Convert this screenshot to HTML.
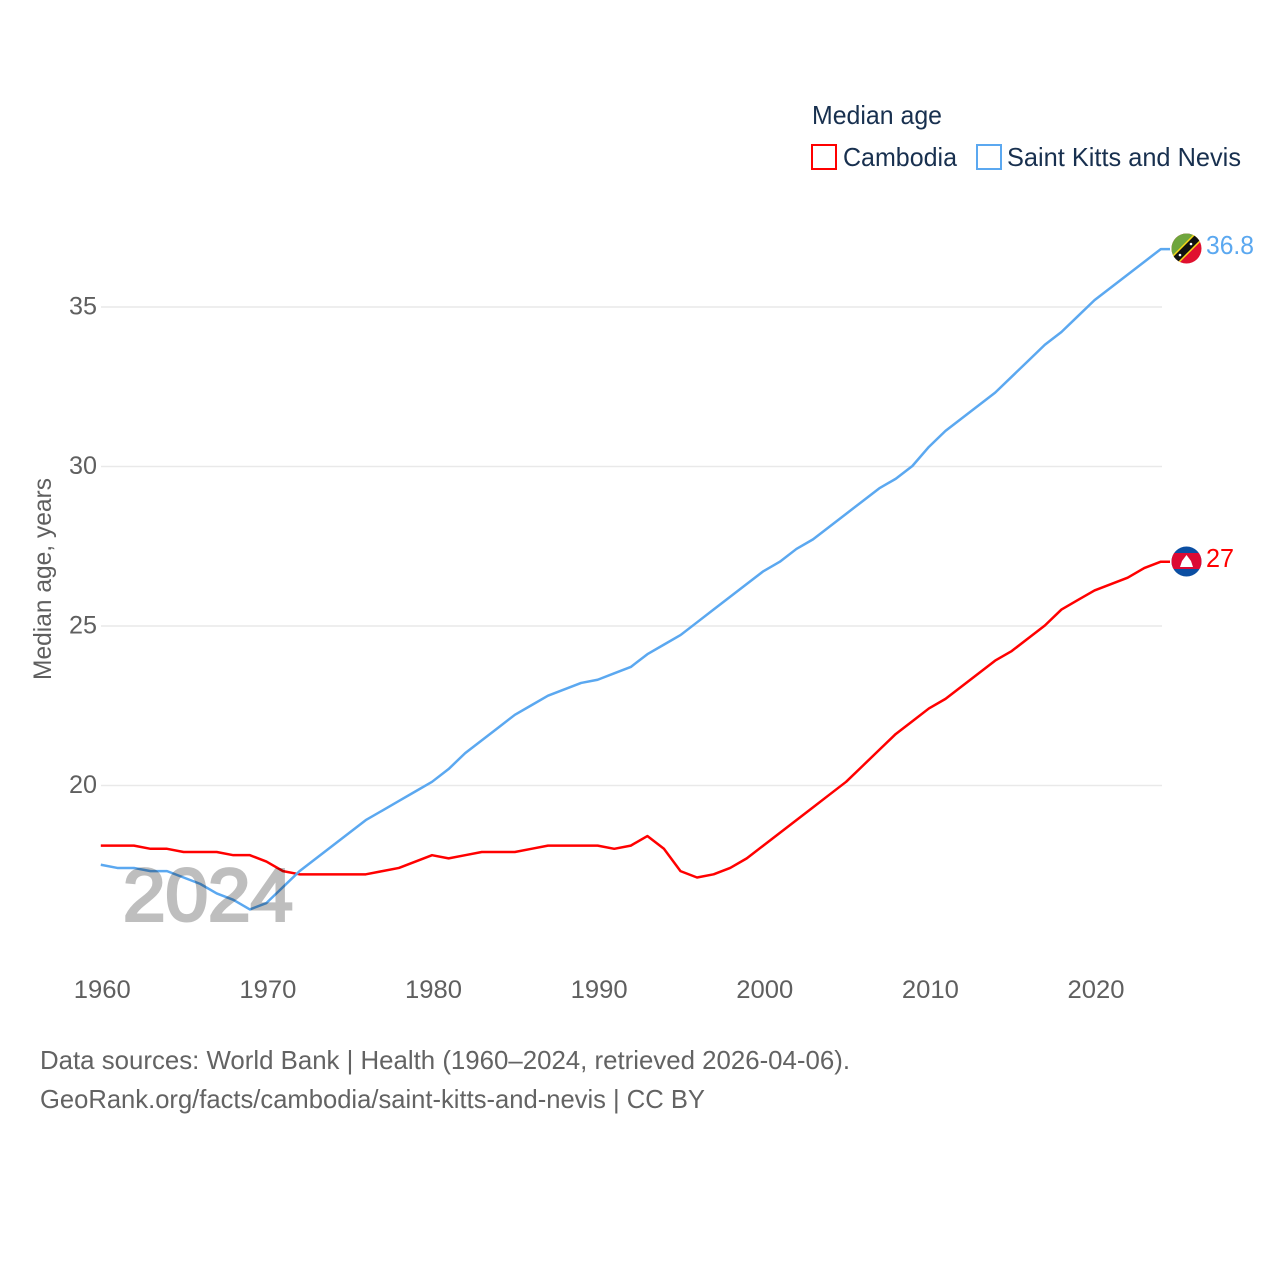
<!DOCTYPE html>
<html>
<head>
<meta charset="utf-8">
<title>Median age: Cambodia and Saint Kitts and Nevis</title>
<style>
html,body{margin:0;padding:0;background:#fff}
svg{display:block}
text{font-family:"Liberation Sans",sans-serif}
.tick{font-size:25px;fill:#5f5f5f}
.legend{font-size:26px;fill:#18304f}
.foot{font-size:26px;fill:#636363}
</style>
</head>
<body>
<svg id="chart" width="1280" height="1280" viewBox="0 0 1280 1280" xmlns="http://www.w3.org/2000/svg">
  <defs>
    <clipPath id="clip-skn"><circle cx="1186.5" cy="248.5" r="15"/></clipPath>
    <clipPath id="clip-khm"><circle cx="1186.5" cy="561.5" r="15"/></clipPath>
  </defs>
  <g id="grid"></g>
  <g id="yticks"></g>
  <g id="xticks"></g>
  <text class="tick" font-size="25" transform="translate(51,680) rotate(-90)" textLength="202" lengthAdjust="spacingAndGlyphs">Median age, years</text>
  <g id="series"></g>
  <g opacity="0.25">
    <text x="123" y="920.5" font-size="74" fill="#000" stroke="#000" stroke-width="3" textLength="170" lengthAdjust="spacingAndGlyphs">2024</text>
  </g>

  <g>
    <text class="legend" x="812" y="124" textLength="130" lengthAdjust="spacingAndGlyphs">Median age</text>
    <rect x="812" y="145" width="24" height="24" fill="#fff" stroke="#ff0000" stroke-width="2"/>
    <text class="legend" x="843" y="166" textLength="114" lengthAdjust="spacingAndGlyphs">Cambodia</text>
    <rect x="977" y="145" width="24" height="24" fill="#fff" stroke="#5ba8f0" stroke-width="2"/>
    <text class="legend" x="1007" y="166" textLength="234" lengthAdjust="spacingAndGlyphs">Saint Kitts and Nevis</text>
  </g>

  <g clip-path="url(#clip-skn)">
    <rect x="1171" y="233" width="31" height="31" fill="#e0112f"/>
    <polygon points="1171,233 1202,233 1171,264" fill="#6fa53d"/>
    <line x1="1172" y1="263" x2="1201" y2="234" stroke="#f7d917" stroke-width="10"/>
    <line x1="1172" y1="263" x2="1201" y2="234" stroke="#111" stroke-width="7"/>
    <circle cx="1180" cy="255" r="1.3" fill="#fff"/>
    <circle cx="1191" cy="244" r="1.3" fill="#fff"/>
  </g>
  <g clip-path="url(#clip-khm)">
    <rect x="1171" y="546" width="31" height="31" fill="#0b4ea2"/>
    <rect x="1171" y="553" width="31" height="16" fill="#dc0a33"/>
    <polygon points="1186.5,555 1191,561 1193,567 1180,567 1182,561" fill="#fff"/>
  </g>

  <text id="label-skn" x="1206" y="254" font-size="26" fill="#5ba8f0" textLength="48" lengthAdjust="spacingAndGlyphs">36.8</text>
  <text id="label-khm" x="1206" y="567" font-size="26" fill="#ff0000" textLength="28" lengthAdjust="spacingAndGlyphs">27</text>

  <text class="foot" x="40" y="1069" textLength="810" lengthAdjust="spacingAndGlyphs">Data sources: World Bank | Health (1960–2024, retrieved 2026-04-06).</text>
  <text class="foot" x="40" y="1108" textLength="665" lengthAdjust="spacingAndGlyphs">GeoRank.org/facts/cambodia/saint-kitts-and-nevis | CC BY</text>
</svg>
<script>
const years = [];
for (let yr = 1960; yr <= 2024; yr++) years.push(yr);
const xTickLabels = [1960, 1970, 1980, 1990, 2000, 2010, 2020];
const yTickLabels = [20, 25, 30, 35];
const cambodia = [18.1,18.1,18.1,18.0,18.0,17.9,17.9,17.9,17.8,17.8,
  17.6,17.3,17.2,17.2,17.2,17.2,17.2,17.3,17.4,17.6,
  17.8,17.7,17.8,17.9,17.9,17.9,18.0,18.1,18.1,18.1,
  18.1,18.0,18.1,18.4,18.0,17.3,17.1,17.2,17.4,17.7,
  18.1,18.5,18.9,19.3,19.7,20.1,20.6,21.1,21.6,22.0,
  22.4,22.7,23.1,23.5,23.9,24.2,24.6,25.0,25.5,25.8,
  26.1,26.3,26.5,26.8,27.0];
const saintKitts = [17.5,17.4,17.4,17.3,17.3,17.1,16.9,16.6,16.4,16.1,
  16.3,16.8,17.3,17.7,18.1,18.5,18.9,19.2,19.5,19.8,
  20.1,20.5,21.0,21.4,21.8,22.2,22.5,22.8,23.0,23.2,
  23.3,23.5,23.7,24.1,24.4,24.7,25.1,25.5,25.9,26.3,
  26.7,27.0,27.4,27.7,28.1,28.5,28.9,29.3,29.6,30.0,
  30.6,31.1,31.5,31.9,32.3,32.8,33.3,33.8,34.2,34.7,
  35.2,35.6,36.0,36.4,36.8];

const NS = 'http://www.w3.org/2000/svg';
function xScale(yr) { return 100.8 + (yr - 1960) * (1160.8 - 100.8) / 64; }
function yScale(v) { return 785 - (v - 20) * 31.9; }

const grid = document.getElementById('grid');
const yticks = document.getElementById('yticks');
const xticks = document.getElementById('xticks');
const series = document.getElementById('series');

yTickLabels.forEach(function (t) {
  const l = document.createElementNS(NS, 'line');
  
  
  l.setAttribute('x1', 101);
  l.setAttribute('x2', 1162);
  l.setAttribute('y1', yScale(t) + 0.5);
  l.setAttribute('y2', yScale(t) + 0.5);
  l.setAttribute('stroke', '#e9e9e9');
  l.setAttribute('stroke-width', '1.5');
  grid.appendChild(l);
  const txt = document.createElementNS(NS, 'text');
  
  
  txt.setAttribute('class', 'tick');
  txt.setAttribute('x', 69);
  txt.setAttribute('y', yScale(t) + 8);
  txt.setAttribute('textLength', 28);
  txt.setAttribute('lengthAdjust', 'spacingAndGlyphs');
  txt.textContent = t;
  yticks.appendChild(txt);
});

xTickLabels.forEach(function (t) {
  const txt = document.createElementNS(NS, 'text');
  
  
  txt.setAttribute('class', 'tick');
  txt.setAttribute('x', xScale(t) - 27);
  txt.setAttribute('y', 998);
  txt.setAttribute('textLength', 57);
  txt.setAttribute('lengthAdjust', 'spacingAndGlyphs');
  txt.textContent = t;
  xticks.appendChild(txt);
});

function linePoints(values) {
  const pts = values.map(function (v, i) { return xScale(years[i]) + ',' + yScale(v); });
  pts.push('1170,' + yScale(values[values.length - 1]));
  return pts.join(' ');
}

const lineKhm = document.createElementNS(NS, 'polyline');


lineKhm.setAttribute('points', linePoints(cambodia));
lineKhm.setAttribute('fill', 'none');
lineKhm.setAttribute('stroke', '#ff0000');
lineKhm.setAttribute('stroke-width', '2.5');
lineKhm.setAttribute('stroke-linejoin', 'round');
series.appendChild(lineKhm);

const lineSkn = document.createElementNS(NS, 'polyline');


lineSkn.setAttribute('points', linePoints(saintKitts));
lineSkn.setAttribute('fill', 'none');
lineSkn.setAttribute('stroke', '#5ba8f0');
lineSkn.setAttribute('stroke-width', '2.5');
lineSkn.setAttribute('stroke-linejoin', 'round');
series.appendChild(lineSkn);

document.getElementById('label-skn').textContent = saintKitts[saintKitts.length - 1].toFixed(1);
document.getElementById('label-khm').textContent = cambodia[cambodia.length - 1];
</script>
</body>
</html>
